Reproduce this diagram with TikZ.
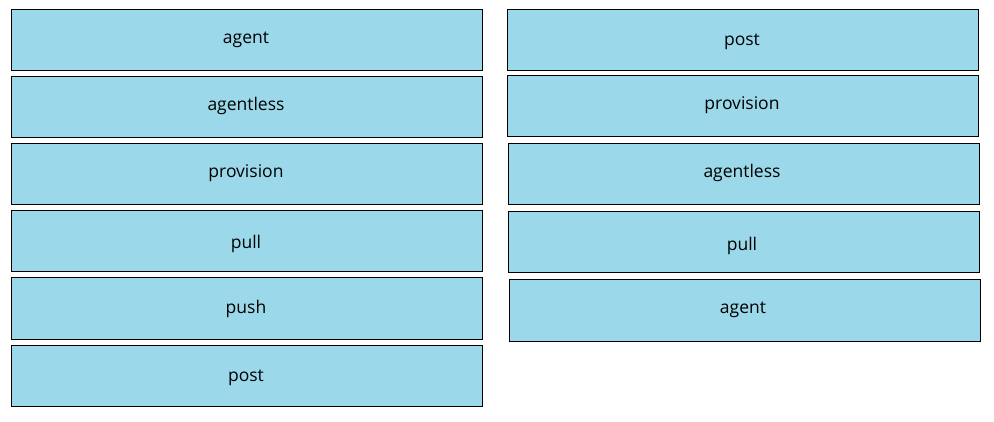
\documentclass[tikz,border=0pt]{standalone}
\usepackage{fontspec}
\setmainfont{Open Sans}
\definecolor{boxblue}{HTML}{9BD9EA}
\tikzset{
  card/.style={draw=black, fill=boxblue, line width=1pt},
  lbl/.style={anchor=base, inner sep=0pt, font=\fontsize{17.5}{20}\selectfont}
}
\begin{document}
\begin{tikzpicture}[x=1pt,y=-1pt]
\useasboundingbox (0,0) rectangle (994,422);
% left column
\path[card] (11,10) rectangle (482,71) coordinate (L1);
\path[card] (11,77) rectangle (482,138) coordinate (L2);
\path[card] (11,144) rectangle (482,205) coordinate (L3);
\path[card] (11,211) rectangle (482,272) coordinate (L4);
\path[card] (11,278) rectangle (482,339) coordinate (L5);
\path[card] (11,345) rectangle (482,406) coordinate (L6);
\node[lbl] (tl1) at (246,44) {agent};
\node[lbl] (tl2) at (246,111) {agentless};
\node[lbl] (tl3) at (246,178) {provision};
\node[lbl] (tl4) at (246,249) {pull};
\node[lbl] (tl5) at (246,314) {push};
\node[lbl] (tl6) at (246,381) {post};
% right column
\path[card] (507,10) rectangle (978,71) coordinate (R1);
\path[card] (507,76) rectangle (978,137) coordinate (R2);
\path[card] (508,144) rectangle (979,205) coordinate (R3);
\path[card] (508,212) rectangle (979,273) coordinate (R4);
\path[card] (509,280) rectangle (980,341) coordinate (R5);
\node[lbl] (tr1) at (742,46) {post};
\node[lbl] (tr2) at (742,110) {provision};
\node[lbl] (tr3) at (742,178) {agentless};
\node[lbl] (tr4) at (742,251) {pull};
\node[lbl] (tr5) at (743,313) {agent};
\end{tikzpicture}
\end{document}
